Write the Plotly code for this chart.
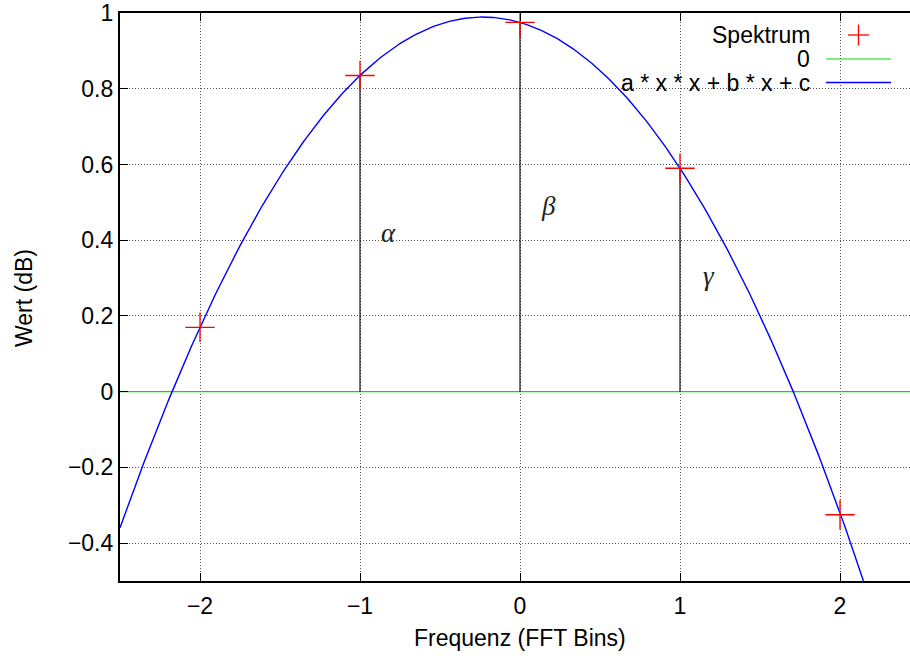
import numpy as np
import plotly.graph_objects as go

# ---- data ----
bins = [-2, -1, 0, 1, 2]
spektrum = [0.17, 0.835, 0.975, 0.59, -0.325]
fit_a, fit_b, fit_c = -0.2625, -0.1225, 0.975
arrow_bins = [-1, 0, 1]
arrow_vals = [0.835, 0.975, 0.59]
greek_labels = ["α", "β", "γ"]
greek_x = [-0.825, 0.18, 1.18]
greek_y = [0.42, 0.49, 0.305]
x_ticks = [-2, -1, 0, 1, 2]
x_ticktext = ["−2", "−1", "0", "1", "2"]
y_ticks = [-0.4, -0.2, 0, 0.2, 0.4, 0.6, 0.8, 1]
y_ticktext = ["−0.4", "−0.2", "0", "0.2", "0.4", "0.6", "0.8", "1"]
legend_names = ["Spektrum", "0", "a * x * x + b * x + c"]

X_RANGE = [-2.5, 2.4375]
Y_RANGE = [-0.5, 1.0]

W, H = 910, 659
ML, MR, MT, MB = 120, 0, 13, 78
PW, PH = W - ML - MR, H - MT - MB

def px(x):
    return (x - ML) / PW

def py(y):
    return (H - MB - y) / PH

FONT = "Liberation Sans, Arial, sans-serif"
FS = 23

fig = go.Figure()

# zero line
fig.add_trace(go.Scatter(x=X_RANGE, y=[0, 0], mode="lines",
                         line=dict(color="#00dd00", width=1.2), showlegend=False))

# fitted parabola
xs = np.linspace(X_RANGE[0], X_RANGE[1], 500)
ys = fit_a * xs * xs + fit_b * xs + fit_c
fig.add_trace(go.Scatter(x=xs, y=ys, mode="lines",
                         line=dict(color="#0000ff", width=1.4), showlegend=False))

# vertical lines
for xb, yv in zip(arrow_bins, arrow_vals):
    fig.add_trace(go.Scatter(x=[xb, xb], y=[0, yv], mode="lines",
                             line=dict(color="black", width=1.1), showlegend=False))

# spectrum points
fig.add_trace(go.Scatter(x=bins, y=spektrum, mode="markers",
                         marker=dict(symbol="cross-thin", size=21,
                                     line=dict(color="#ff0000", width=1.3)),
                         showlegend=False))

annotations = []
for lab, gx, gy in zip(greek_labels, greek_x, greek_y):
    annotations.append(dict(x=gx, y=gy, xref="x", yref="y", text="<i>" + lab + "</i>",
                            showarrow=False, xanchor="center", yanchor="middle",
                            font=dict(family="Liberation Serif, DejaVu Serif, serif",
                                      size=27, color="#222")))

# manual legend (text left, sample right)
leg_y = [35, 59, 83]
for name, ly in zip(legend_names, leg_y):
    annotations.append(dict(x=px(812), y=py(ly), xref="paper", yref="paper",
                            text=name, showarrow=False, xanchor="right", yanchor="middle",
                            font=dict(family=FONT, size=FS, color="black")))

shapes = [
    dict(type="line", xref="paper", yref="paper", x0=px(848), x1=px(869),
         y0=py(35), y1=py(35), line=dict(color="#ff0000", width=1.3)),
    dict(type="line", xref="paper", yref="paper", x0=px(858.5), x1=px(858.5),
         y0=py(24.5), y1=py(45.5), line=dict(color="#ff0000", width=1.3)),
    dict(type="line", xref="paper", yref="paper", x0=px(826), x1=px(891),
         y0=py(59), y1=py(59), line=dict(color="#00dd00", width=1.2)),
    dict(type="line", xref="paper", yref="paper", x0=px(826), x1=px(891),
         y0=py(82.5), y1=py(82.5), line=dict(color="#0000ff", width=1.4)),
]

# axis titles
annotations.append(dict(x=px(520), y=py(638), xref="paper", yref="paper",
                        text="Frequenz (FFT Bins)", showarrow=False,
                        xanchor="center", yanchor="middle",
                        font=dict(family=FONT, size=FS, color="black")))
annotations.append(dict(x=px(24), y=py(298), xref="paper", yref="paper",
                        text="Wert (dB)", showarrow=False, textangle=-90,
                        xanchor="center", yanchor="middle",
                        font=dict(family=FONT, size=FS, color="black")))

axis_common = dict(showgrid=True, gridcolor="#555555", griddash="1px,2px", gridwidth=1,
                   zeroline=False, showline=True, linecolor="black", linewidth=2.2,
                   ticks="inside", ticklen=8, tickcolor="black", tickwidth=1,
                   tickfont=dict(family=FONT, size=FS, color="black"))

fig.update_layout(
    width=W, height=H,
    margin=dict(l=ML, r=MR, t=MT, b=MB),
    paper_bgcolor="white", plot_bgcolor="white",
    showlegend=False,
    annotations=annotations, shapes=shapes,
    xaxis=dict(range=X_RANGE, tickvals=x_ticks, ticktext=x_ticktext,
               mirror="ticks", ticklabelstandoff=3, **axis_common),
    yaxis=dict(range=Y_RANGE, tickvals=y_ticks, ticktext=y_ticktext,
               mirror=False, **axis_common),
)

fig.write_html("out.html")
